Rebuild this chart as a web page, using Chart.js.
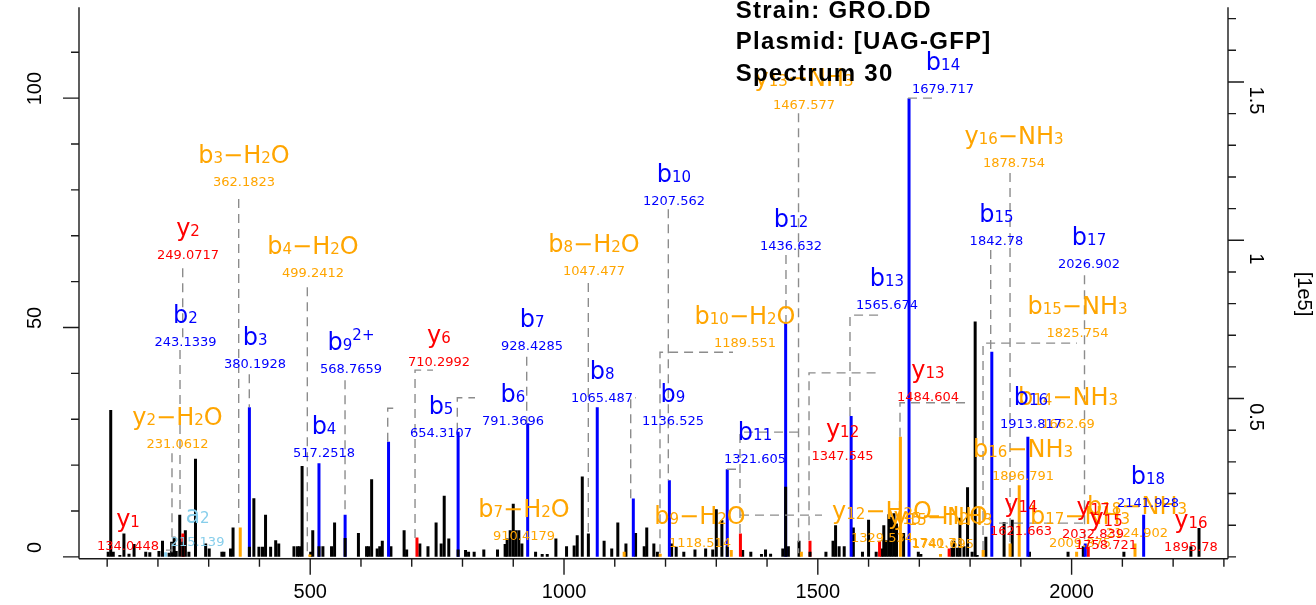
<!DOCTYPE html>
<html><head><meta charset="utf-8">
<script src="https://cdn.jsdelivr.net/npm/chart.js@4/dist/chart.umd.min.js"></script>
<style>html,body{margin:0;padding:0;background:#fff;overflow:hidden}canvas{display:block}</style>
</head><body>
<canvas id="c" width="1316" height="605"></canvas>
<script>
// ---------------- data (m/z, relative intensity %) ----------------
const blackMz = [102,107,112,125,133,143,153,176,184,202,209,222,227,232,236,243,254,261,274,294,301,326,330,343,348,389,399,406,412,422,432,438,468,475,479,484,501,505,525,542,548,595,611,615,621,632,637,642,659,685,690,716,732,748,758,764,773,806,812,823,842,869,884,888,894,900,905,911,917,944,957,967,984,1005,1020,1026,1036,1048,1079,1094,1106,1122,1141,1158,1163,1177,1184,1212,1221,1236,1258,1279,1293,1300,1311,1352,1368,1389,1397,1407,1431,1442,1463,1516,1530,1535,1542,1552,1570,1588,1600,1615,1626,1630,1635,1640,1645,1650,1655,1669,1698,1703,1764,1768,1775,1780,1788,1795,1804,1810,1814,1831,1867,1883,1917,1993,2023,2103,2235,2251];
const blackInt = [1.1,32.0,1.1,0.4,5.1,0.7,2.8,1.1,1.0,1.3,3.5,0.9,3.3,4.4,1.3,9.2,5.8,1.1,21.4,2.9,1.8,1.1,1.1,1.8,6.4,12.8,2.2,2.2,9.2,2.2,3.6,2.9,2.3,2.3,2.3,19.8,1.1,5.8,2.3,2.3,7.5,5.2,2.3,2.3,16.9,1.8,2.3,3.5,2.3,5.8,1.6,2.9,2.3,7.5,2.9,13.3,4.0,1.5,1.1,1.1,1.6,1.6,2.8,4.0,5.8,11.6,5.8,5.8,2.9,1.1,0.6,0.6,4.0,2.3,2.5,4.7,17.5,5.1,3.5,1.8,7.5,2.9,5.2,2.3,6.4,2.9,1.1,2.9,2.2,1.1,1.6,1.8,1.6,10.4,8.0,1.5,1.1,0.6,1.6,0.7,1.8,2.3,3.5,1.1,3.5,6.9,2.3,2.3,6.4,1.1,8.1,1.1,1.8,6.9,3.6,9.3,8.7,9.5,7.3,5.2,1.1,0.6,2.0,3.5,2.0,8.5,2.3,15.2,1.1,51.3,0.4,4.4,7.6,8.1,1.1,1.1,2.3,1.1,2.3,6.3];

const bIonMz  = [380.19,517.25,568.77,654.31,791.37,928.43,1065.49,1136.53,1207.56,1321.61,1436.63,1565.67,1679.72,1842.78,1913.82,2026.90,2141.93];
const bIonInt = [32.6,20.4,9.2,25.1,27.3,29.1,32.6,12.7,16.7,19.1,51.2,30.7,100,44.7,26.2,2.9,9.2];

const yIonMz  = [249.07,710.30,1347.55,1484.60,1621.66,1758.72,2032.84];
const yIonInt = [5.1,4.2,5.1,3.5,3.5,1.8,2.2];

const lossMz  = [362.18,499.24,1118.51,1189.55,1329.53,1467.58,1662.69,1741.69,1825.75,1878.75,1896.79,2009.88,2124.90];
const lossInt = [6.4,0.5,1.1,0.7,1.5,1.1,26.2,0.6,1.5,2.9,15.6,1.1,2.9];

const aIonMz  = [215.14];
const aIonInt = [1.0];

// unannotated peaks lying on top of the lower part of annotated ones
const overlapMz  = [249.07,380.19,517.25,568.77,791.37,1321.61,1436.63,1484.60];
const overlapInt = [3.3,2.2,2.3,4.1,1.6,2.3,15.3,1.1];

// annotation texts
const ionLabels = ['y_{1}','a_{2}','y_{2}-H_{2}O','b_{2}','y_{2}','b_{3}-H_{2}O','b_{3}','b_{4}-H_{2}O','b_{4}','b_{9}^{2+}','y_{6}','b_{5}','b_{6}','b_{7}','b_{7}-H_{2}O','b_{8}','b_{8}-H_{2}O','b_{9}','b_{10}','b_{9}-H_{2}O','b_{10}-H_{2}O','b_{11}','b_{12}','y_{12}','y_{13}-NH_{3}','b_{13}','b_{14}','y_{13}','y_{12}-H_{2}O','y_{15}-H_{2}O','y_{15}-NH_{3}','y_{16}-NH_{3}','b_{15}','b_{17}','b_{15}-NH_{3}','b_{14}-NH_{3}','b_{16}','b_{16}-NH_{3}','y_{14}','b_{17}-NH_{3}','y_{17}','y_{15}','b_{18}-NH_{3}','b_{18}','y_{16}'];
const ionMzText = ['134.0448','215.139','231.0612','243.1339','249.0717','362.1823','380.1928','499.2412','517.2518','568.7659','710.2992','654.3107','791.3696','928.4285','910.4179','1065.487','1047.477','1136.525','1207.562','1118.514','1189.551','1321.605','1436.632','1347.545','1467.577','1565.674','1679.717','1484.604','1329.534','1740.71','1741.695','1878.754','1842.78','2026.902','1825.754','1662.69','1913.817','1896.791','1621.663','2009.875','2032.839','1758.721','2124.902','2141.928','1895.78'];

// label anchor (data units: m/z, intensity of the m/z text baseline)
const labelAtMz  = [141.1,278.0,238.6,254.3,259.3,369.6,391.3,505.5,527.2,580.4,753.7,757.7,899.5,937.0,921.2,1074.9,1059.1,1214.7,1216.7,1267.9,1356.6,1376.3,1447.2,1548.7,1472.8,1636.3,1746.7,1717.1,1626.5,1736.8,1746.7,1886.5,1852.0,2034.3,2011.6,1992.9,1920.0,1904.3,1900.3,2016.5,2042.2,2067.8,2128.8,2150.5,2235.2];
const labelAtInt = [1.46,2.33,23.76,45.93,64.90,80.88,41.14,61.04,21.80,40.11,41.57,26.10,28.71,45.06,3.64,33.79,61.41,28.71,76.67,2.22,45.72,20.36,66.86,21.19,97.71,54.11,101.16,34.05,3.20,2.11,1.83,85.02,67.95,62.94,47.96,28.06,28.06,16.72,4.73,2.11,4.01,1.68,4.29,10.77,1.24];

// dashed leader lines (m/z, intensity)
const leaderPaths = [
 [[227.7,22.6],[227.7,0.2]],
 [[243.5,45.1],[243.5,9.5]],
 [[248.8,62.9],[248.8,46.6]],
 [[359.1,78.0],[359.1,6.5]],
 [[380.0,39.8],[380.0,32.6]],
 [[494.3,58.8],[494.3,1.0]],
 [[568.6,38.5],[568.6,9.3]],
 [[652.7,25.1],[652.7,32.4],[671.0,32.4]],
 [[706.5,4.1],[706.5,40.7],[741.9,40.7]],
 [[789.8,27.3],[789.8,34.7],[824.7,34.7]],
 [[926.5,43.6],[926.5,29.1]],
 [[1047.9,59.7],[1047.9,5.2]],
 [[1131.4,12.8],[1131.4,34.7],[1141.8,34.7]],
 [[1189.1,0.8],[1189.1,44.6],[1332.9,44.6]],
 [[1205.5,75.8],[1205.5,16.7]],
 [[1321.1,19.1],[1346.7,19.1]],
 [[1346.7,5.2],[1346.7,27.2],[1472.8,27.2]],
 [[1346.7,9.1],[1508.3,9.1]],
 [[1437.3,65.8],[1437.3,51.2]],
 [[1462.0,96.7],[1462.0,0.8]],
 [[1482.7,3.6],[1482.7,40.1],[1624.5,40.1]],
 [[1563.4,30.7],[1563.4,52.7],[1624.5,52.7]],
 [[1677.7,100.0],[1725.0,100.0]],
 [[1661.9,26.2],[1661.9,33.6],[1795.9,33.6]],
 [[1878.7,83.7],[1878.7,3.0]],
 [[1840.6,66.9],[1840.6,44.7]],
 [[2025.4,61.4],[2025.4,2.1]],
 [[1825.5,1.5],[1825.5,46.6],[2010.6,46.6]],
 [[1857.0,7.35],[2034.3,7.35]],
 [[215.9,1.46],[229.7,1.46]]
];

// axis ticks
const xTicks = [100,200,300,400,500,600,700,800,900,1000,1100,1200,1300,1400,1500,1600,1700,1800,1900,2000,2100,2200,2300];
const xTickLabels = [500,1000,1500,2000];
const yTicks = [0,10,20,30,40,50,60,70,80,90,100,110];
const yTickLabels = [0,50,100];
const y2Ticks = [0,0.1,0.2,0.3,0.4,0.5,0.6,0.7,0.8,0.9,1.0,1.1,1.2,1.3,1.4,1.5,1.6,1.7];
const y2TickLabels = ['0.5','1','1.5'];
const titleLines = ['Strain: GRO.DD','Plasmid: [UAG-GFP]','Spectrum 30'];
const absScaleLabel = '[1e5]';
const absPerRel = 0.01449; // 1e5 counts per 1 % relative intensity

// ---------------- styles ----------------
const kindColor = {b:'#0000FF', y:'#FF0000', loss:'#FFA500', a:'#87CEEB'};
const kindRank = {loss:0, a:1, y:2, b:3};
function kindOf(s){ if (s.indexOf('-')>=0) return 'loss'; return s[0]==='a'?'a':(s[0]==='y'?'y':'b'); }
function pts(m,v){ return m.map((mm,i)=>({x:mm,y:v[i]})); }
function parts(s){
  const out=[]; const re=/_\{([^}]*)\}|\^\{([^}]*)\}|([^_^]+)/g; let m;
  while((m=re.exec(s))){
    if(m[1]!==undefined) out.push({t:m[1],k:'sub'});
    else if(m[2]!==undefined) out.push({t:m[2],k:'sup'});
    else out.push({t:m[3].replace(/-/g,'\u2212'),k:'n'});
  }
  return out;
}
const FONT_ION = '24px "DejaVu Sans"';
const FONT_SUB = '15px "DejaVu Sans"';
const FONT_NUM = '13px "DejaVu Sans"';
const FONT_AX = '20px "Liberation Sans", Arial, sans-serif';

const specPlugin = {
  id:'spec',
  afterDatasetsDraw(chart){
    const {ctx, chartArea:ca, scales:{x,y,y2}} = chart;
    // leaders
    ctx.save();
    ctx.beginPath(); ctx.rect(ca.left, ca.top, ca.right-ca.left, ca.bottom-ca.top); ctx.clip();
    ctx.setLineDash([9,6]); ctx.strokeStyle='#8c8c8c'; ctx.lineWidth=1.4;
    leaderPaths.forEach(p=>{
      ctx.beginPath();
      p.forEach(([m,v],i)=>{ const px=x.getPixelForValue(m), py=y.getPixelForValue(v); if(i) ctx.lineTo(px,py); else ctx.moveTo(px,py); });
      ctx.stroke();
    });
    ctx.restore();

    // annotation labels
    const idx = ionLabels.map((s,i)=>i).sort((a,b)=>(kindRank[kindOf(ionLabels[a])]-kindRank[kindOf(ionLabels[b])])||(a-b));
    ctx.save();
    idx.forEach(i=>{
      const col = kindColor[kindOf(ionLabels[i])];
      const cx = x.getPixelForValue(labelAtMz[i]);
      const nb = y.getPixelForValue(labelAtInt[i]);
      const ib = nb - 23;
      const ps = parts(ionLabels[i]);
      let w = 0;
      ps.forEach(p=>{ ctx.font = p.k==='n'?FONT_ION:FONT_SUB; p.w = ctx.measureText(p.t).width; w += p.w; });
      let px = cx - w/2;
      ctx.fillStyle = col; ctx.textAlign='left'; ctx.textBaseline='alphabetic';
      ps.forEach(p=>{
        ctx.font = p.k==='n'?FONT_ION:FONT_SUB;
        ctx.fillText(p.t, px, p.k==='sup'? ib-10 : ib);
        px += p.w;
      });
      ctx.font = FONT_NUM; ctx.textAlign='center';
      ctx.fillText(ionMzText[i], cx, nb);
    });
    ctx.restore();

    // axes
    ctx.save();
    ctx.strokeStyle='#1a1a1a'; ctx.lineWidth=1.4; ctx.setLineDash([]);
    ctx.beginPath();
    ctx.moveTo(ca.left, ca.top); ctx.lineTo(ca.left, ca.bottom);
    ctx.moveTo(ca.right, ca.top); ctx.lineTo(ca.right, ca.bottom);
    ctx.moveTo(ca.left, ca.bottom); ctx.lineTo(ca.right, ca.bottom);
    x.ticks.forEach(t=>{ const p=x.getPixelForValue(t.value); const L = xTickLabels.includes(t.value)?16:8; ctx.moveTo(p, ca.bottom); ctx.lineTo(p, ca.bottom+L); });
    y.ticks.forEach(t=>{ const p=y.getPixelForValue(t.value); const L = yTickLabels.includes(t.value)?16:8; ctx.moveTo(ca.left, p); ctx.lineTo(ca.left-L, p); });
    y2.ticks.forEach(t=>{ const p=y2.getPixelForValue(t.value); const L = y2TickLabels.includes(String(+t.value.toFixed(1)))?16:8; ctx.moveTo(ca.right, p); ctx.lineTo(ca.right+L, p); });
    ctx.stroke();

    ctx.fillStyle='#000'; ctx.font=FONT_AX; ctx.textAlign='center'; ctx.textBaseline='alphabetic';
    xTickLabels.forEach(v=>{ ctx.fillText(String(v), x.getPixelForValue(v), 598); });
    yTickLabels.forEach(v=>{
      const p=y.getPixelForValue(v);
      ctx.save(); ctx.translate(41, p-9.5); ctx.rotate(-Math.PI/2); ctx.fillText(String(v),0,0); ctx.restore();
    });
    y2TickLabels.forEach(s=>{
      const p=y2.getPixelForValue(parseFloat(s));
      ctx.save(); ctx.translate(1250, p+18.5); ctx.rotate(Math.PI/2); ctx.fillText(s,0,0); ctx.restore();
    });
    ctx.save(); ctx.translate(1298, 294); ctx.rotate(Math.PI/2); ctx.fillText(absScaleLabel,0,0); ctx.restore();

    // title
    ctx.font='bold 24px "Liberation Sans", Arial, sans-serif'; ctx.textAlign='left';
    try { ctx.letterSpacing='1.25px'; } catch(e){}
    titleLines.forEach((s,i)=>ctx.fillText(s, 735.7, 18.3 + i*31.1));
    ctx.restore();
  }
};

const common = {barThickness:3, grouped:false, borderWidth:0, inflateAmount:0};
new Chart(document.getElementById('c'), {
  type:'bar',
  data:{ datasets:[
    Object.assign({label:'overlap', data:pts(overlapMz,overlapInt), backgroundColor:'#000000', order:0}, common),
    Object.assign({label:'b ions', data:pts(bIonMz,bIonInt), backgroundColor:kindColor.b, order:1}, common),
    Object.assign({label:'y ions', data:pts(yIonMz,yIonInt), backgroundColor:kindColor.y, order:2}, common),
    Object.assign({label:'neutral loss', data:pts(lossMz,lossInt), backgroundColor:kindColor.loss, order:3}, common),
    Object.assign({label:'a ions', data:pts(aIonMz,aIonInt), backgroundColor:kindColor.a, order:4}, common),
    Object.assign({label:'unassigned', data:pts(blackMz,blackInt), backgroundColor:'#000000', order:5}, common)
  ]},
  options:{
    responsive:false, animation:false, devicePixelRatio:1, events:[],
    layout:{padding:{top:7.3,left:0,right:0,bottom:0}},
    plugins:{legend:{display:false}, tooltip:{enabled:false}},
    scales:{
      x:{type:'linear', min:44.5, max:2308.1, offset:false,
         grid:{display:false}, border:{display:false}, ticks:{display:false},
         afterBuildTicks:s=>{ s.ticks = xTicks.map(v=>({value:v})); },
         afterFit:s=>{ s.height = 46.3; }},
      y:{type:'linear', position:'left', min:-0.4, max:119.8,
         grid:{display:false}, border:{display:false}, ticks:{display:false},
         afterBuildTicks:s=>{ s.ticks = yTicks.map(v=>({value:v})); },
         afterFit:s=>{ s.width = 79; }},
      y2:{type:'linear', position:'right', min:-0.4*absPerRel, max:119.8*absPerRel,
         grid:{display:false}, border:{display:false}, ticks:{display:false},
         afterBuildTicks:s=>{ s.ticks = y2Ticks.map(v=>({value:v})); },
         afterFit:s=>{ s.width = 88; }}
    }
  },
  plugins:[specPlugin]
});
</script>
</body></html>
